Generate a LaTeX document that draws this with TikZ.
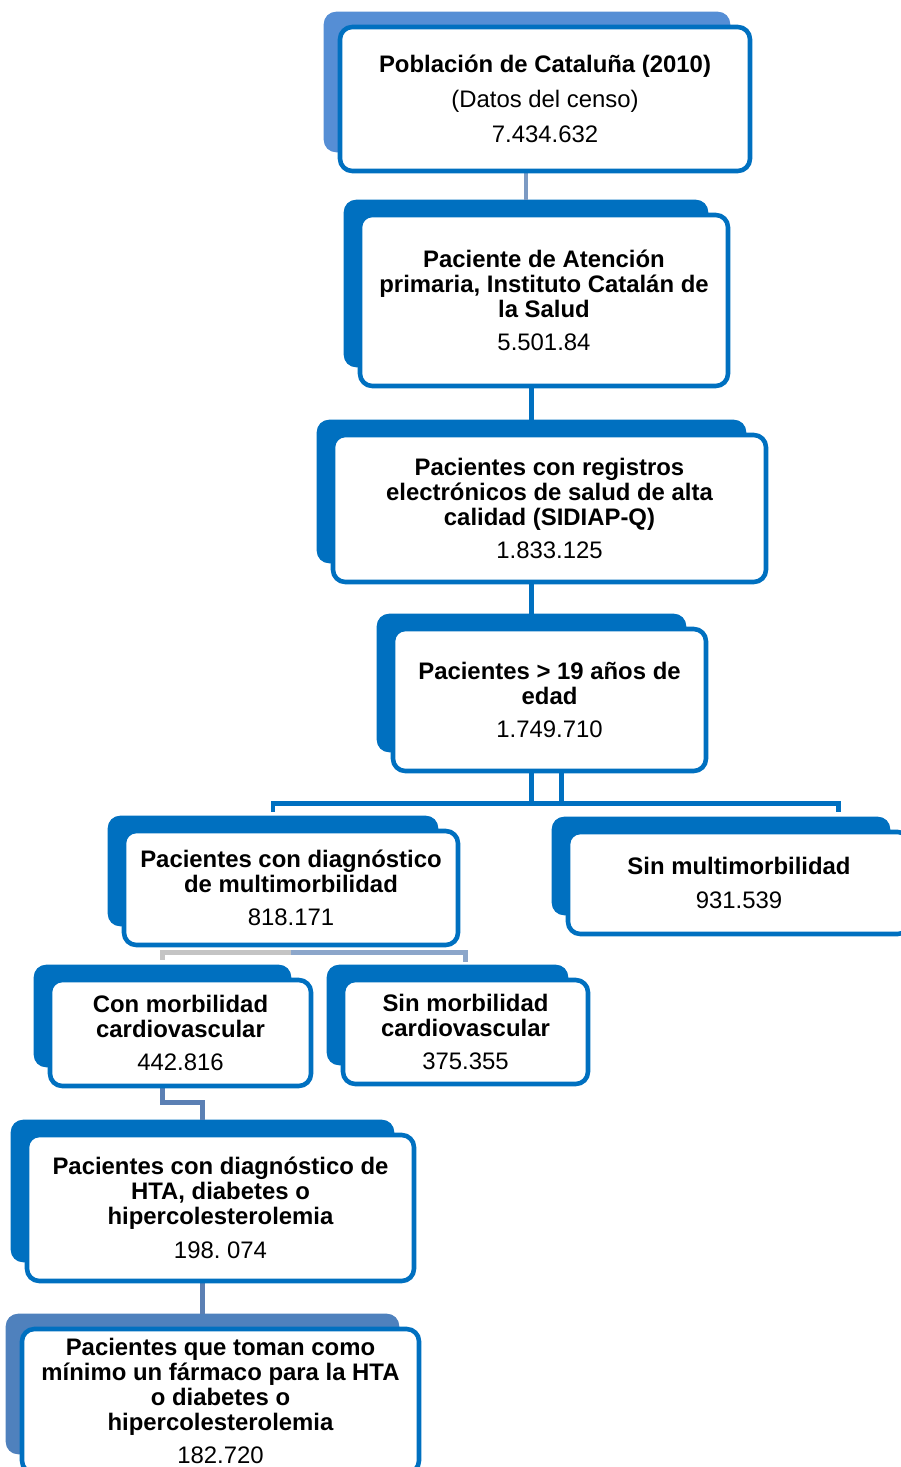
\documentclass[tikz,border=0pt]{standalone}
\usepackage{fontspec}
\setmainfont{Liberation Sans}
\usepackage{tikz}
\usetikzlibrary{calc,backgrounds}
\definecolor{marco}{RGB}{0,112,192}
\definecolor{fondoclaro}{RGB}{85,142,213}
\definecolor{fondogris}{RGB}{79,129,189}
\definecolor{enlace}{RGB}{91,128,180}
\definecolor{enlacegris}{RGB}{196,196,196}
\newlength\pix
\setlength\pix{0.02cm}
\newcommand{\fondo}[2]{\fill[#2,rounded corners=7pt] ($(#1.north west)+(-14,-13)$) rectangle ($(#1.south east)+(-22,-21)$);}

\begin{document}
\begin{tikzpicture}[x=0.02cm,y=-0.02cm,
  caja/.style={draw=marco,line width=2.6pt,rounded corners=7pt,fill=white,align=center,inner sep=0pt,
    font=\fontsize{13.6}{14.2}\selectfont},
  enl/.style={line width=2.8pt}]
  \useasboundingbox (0,0) rectangle (900,1467); % 図の範囲

  \node[caja,minimum width=410\pix,minimum height=144\pix] (b1) at (545,99)
    {\textbf{Población de Cataluña (2010)}\\[5.6pt](Datos del censo)\\[5.6pt]7.434.632}; % 人口
  \node[caja,minimum width=368\pix,minimum height=171\pix] (b2) at (544,300.5)
    {\bfseries Paciente de Atención\\\bfseries primaria, Instituto Catalán de\\\bfseries la Salud\\[5pt]\mdseries 5.501.84}; % 一次医療
  \node[caja,minimum width=433\pix,minimum height=147\pix] (b3) at (549.5,508.5)
    {\bfseries Pacientes con registros\\\bfseries electrónicos de salud de alta\\\bfseries calidad (SIDIAP-Q)\\[5pt]\mdseries 1.833.125}; % 電子記録
  \node[caja,minimum width=313\pix,minimum height=142\pix] (b4) at (549.5,700)
    {\bfseries Pacientes > 19 años de\\\bfseries edad\\[5pt]\mdseries 1.749.710}; % 19歳超
  \node[caja,minimum width=334\pix,minimum height=114\pix] (b5) at (291,888)
    {\bfseries Pacientes con diagnóstico\\\bfseries de multimorbilidad\\[5pt]\mdseries 818.171}; % 多疾患あり
  \node[caja,minimum width=342\pix,minimum height=102\pix] (b6) at (739,883)
    {\bfseries Sin multimorbilidad\\[5pt]\mdseries 931.539}; % 多疾患なし
  \node[caja,minimum width=261\pix,minimum height=106\pix] (b7) at (180.5,1033)
    {\bfseries Con morbilidad\\\bfseries cardiovascular\\[5pt]\mdseries 442.816}; % 心血管あり
  \node[caja,minimum width=245\pix,minimum height=104\pix] (b8) at (465.5,1032)
    {\bfseries Sin morbilidad\\\bfseries cardiovascular\\[5pt]\mdseries 375.355}; % 心血管なし
  \node[caja,minimum width=387\pix,minimum height=146\pix] (b9) at (220.5,1208)
    {\bfseries Pacientes con diagnóstico de\\\bfseries HTA, diabetes o\\\bfseries hipercolesterolemia\\[5pt]\mdseries 198.\ 074}; % 診断あり
  \node[caja,minimum width=397\pix,minimum height=144\pix] (b10) at (220.5,1401)
    {\bfseries Pacientes que toman como\\\bfseries mínimo un fármaco para la HTA\\\bfseries o diabetes o\\\bfseries hipercolesterolemia\\[5pt]\mdseries 182.720}; % 服薬あり

  \foreach \b in {2,...,10}
    \coordinate (k\b) at ($(b\b.north)+(-18,-13)$); % 後ろの板の上端中央
  \coordinate (bus) at ($(b4.south)+(0,30)$); % 分岐線の高さ
  \coordinate (k6b) at ($(bus -| b6.east)+(-74,0)$); % 6への分岐点

  \begin{pgfonlayer}{background}
    \fondo{b1}{fondoclaro} % 後ろの板
    \foreach \b in {2,...,9} {\fondo{b\b}{marco}} % 後ろの板
    \fondo{b10}{fondogris} % 後ろの板
    \draw[enl,enlace!80] (b1.south -| k2) -- (k2); % 1→2
    \draw[enl,marco] (b2.south -| k3) -- (k3); % 2→3
    \draw[enl,marco] (b3.south -| k4) -- (k4); % 3→4
    \draw[enl,marco] (b4.south -| k4) -- (bus -| k4); % 4→分岐
    \draw[enl,marco] ($(b4.south -| k4)+(30,0)$) -- ($(bus -| k4)+(30,0)$); % 4→分岐
    \draw[enl,marco] ($(k5)+(0,-4)$) -- (bus -| k5) -- (k6b) -- ++(0,9); % 5・6へ
    \draw[enl,enlacegris] ($(k7)+(0,-5)$) |- ($(b5.south)+(0,5)$); % 5→7
    \draw[enl,enlace!70] ($(b5.south)+(0,5)$) -| ($(b8.north)+(0,-16)$); % 5→8
    \draw[enl,enlace] (b7.south -| k7) |- ($(k9)+(0,-17)$) -- (k9); % 7→9
    \draw[enl,enlace] (b9.south -| k10) -- (k10); % 9→10
  \end{pgfonlayer}
\end{tikzpicture}
\end{document}
